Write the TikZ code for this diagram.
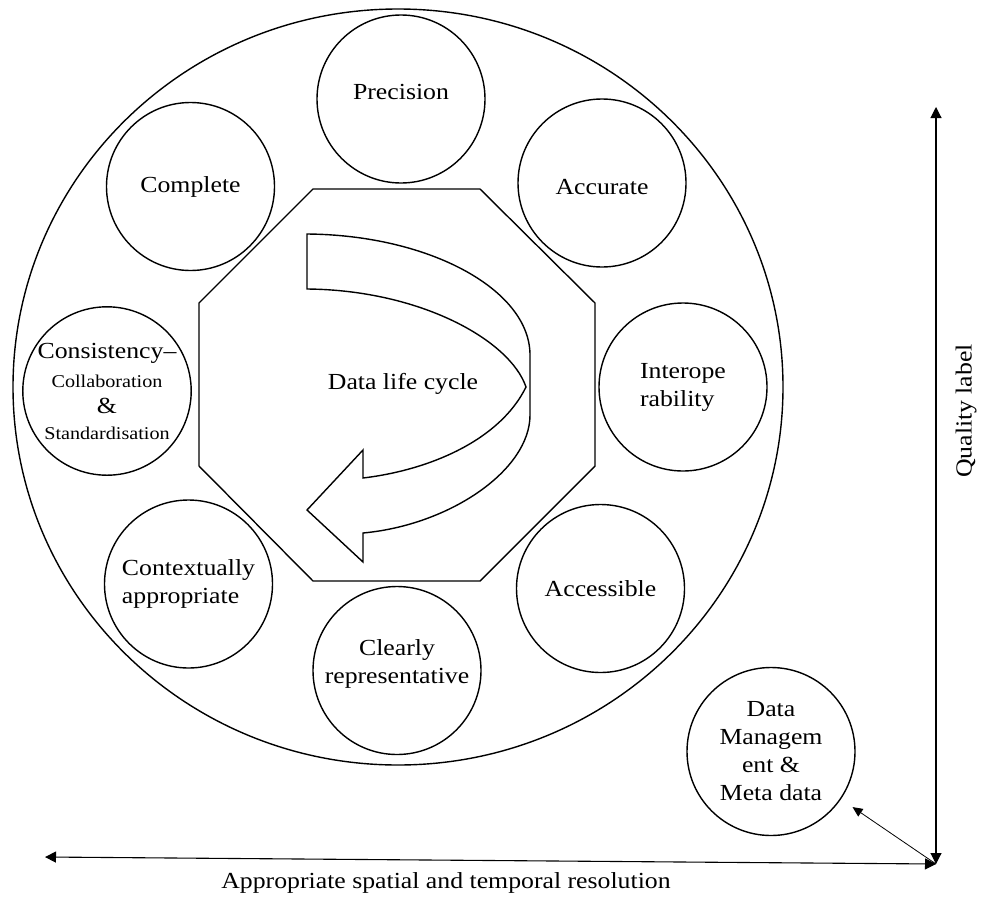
\documentclass[tikz,border=0pt]{standalone}
\usepackage{fontspec}
\setmainfont{Liberation Serif}[FakeStretch=1.12]
\usetikzlibrary{arrows.meta,shapes.geometric}
\begin{document}
\begin{tikzpicture}[x=1pt,y=-1pt,
  every node/.style={font=\fontsize{23}{28}\selectfont},
  qcircle/.style={draw, circle, line width=1.4pt, minimum size=168pt, inner sep=0pt, align=center},
  shapeline/.style={line width=1.4pt, line join=miter},
  axisline/.style={line width=1.1pt, {Triangle[width=11pt,length=11pt]}-{Triangle[width=11pt,length=11pt]}},
  diagline/.style={line width=0.8pt, -{Triangle[width=9pt,length=10pt]}, shorten >=14pt}
]
\useasboundingbox (0,0) rectangle (982,897);

% outer ring
\node[draw, ellipse, line width=1.4pt, minimum width=770pt, minimum height=756pt, inner sep=0pt] (ring) at (398,387) {};

% octagon
\draw[shapeline] (313,189) -- (480,189) -- (595,303) -- (595,466) -- (480,581) -- (313,581) -- (199,466) -- (199,303) -- cycle;

% curved arrow
\draw[shapeline] (307,234) .. controls (430,235) and (530,290) .. (530,355)
  -- (530,415) .. controls (530,470) and (450,525) .. (363,533)
  -- (363,562) -- (307,510) -- (363,450) -- (363,478)
  .. controls (430,470) and (500,440) .. (526,387)
  .. controls (510,340) and (420,290) .. (307,289) -- cycle;
\node (dlc) at (403,384) {Data life cycle};

% quality circles
\node[qcircle, label={[yshift=7pt]center:Precision}] (prec) at (401,99) {};
\node[qcircle, label={[yshift=-4pt]center:Accurate}] (acc) at (602,183) {};
\node[qcircle] (comp) at (190.5,186.5) {Complete};
\node[qcircle, align=left] (inter) at (683,387) {Interope\\rability};
\node[qcircle, font=\fontsize{23}{26}\selectfont] (cons) at (107,391)
  {Consistency–\\[3pt]{\fontsize{18}{22}\selectfont Collaboration}\\\&\\{\fontsize{18}{22}\selectfont Standardisation}};
\node[qcircle, align=left] (ctx) at (188.5,584) {Contextually\\appropriate};
\node[qcircle] (accs) at (600.5,588.5) {Accessible};
\node[qcircle, label={[yshift=7pt, align=center]center:Clearly\\representative}] (clr) at (397,670.5) {};
\node[qcircle] (dm) at (771,751.5) {Data\\Managem\\ent \&\\Meta data};

% axes
\coordinate (corner) at (936,864);
\coordinate (qtop) at (936,107);
\coordinate (hleft) at (45,857);
\draw[axisline] (corner) -- (qtop);
\draw[axisline] (corner) -- (hleft);
\draw[diagline] (corner) -- (dm);

\node[rotate=90] (ql) at (966,411) {Quality label};
\node (res) at (446,883) {Appropriate spatial and temporal resolution};
\end{tikzpicture}
\end{document}
